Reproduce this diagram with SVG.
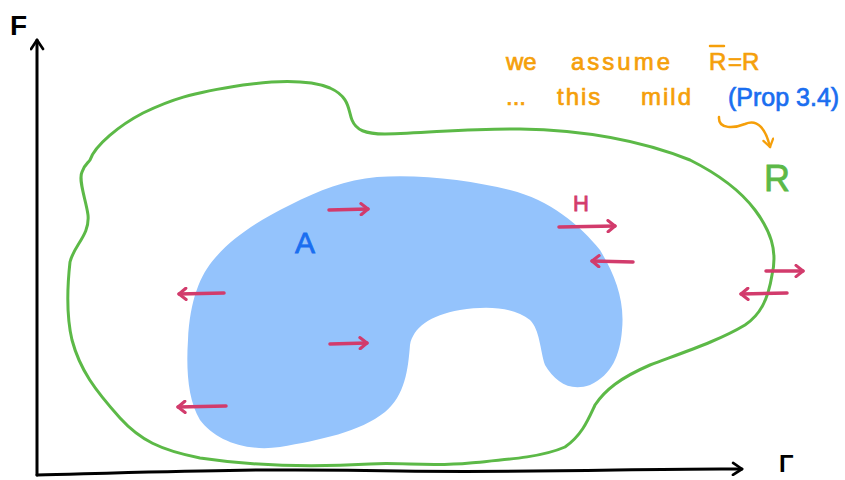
<svg xmlns="http://www.w3.org/2000/svg" width="845" height="480" viewBox="0 0 845 480">
<style>
.ax{fill:none;stroke:#000;stroke-width:3;stroke-linecap:round;stroke-linejoin:round}
.ar{fill:none;stroke:#d23b6c;stroke-width:3.5;stroke-linecap:round;marker-end:url(#ph)}
.or{font-family:"Liberation Sans",sans-serif;fill:#f59f0a;stroke:#f59f0a;stroke-width:0.7;font-size:24px}
.bl{font-family:"Liberation Sans",sans-serif;fill:#1a6ef0;stroke:#1a6ef0;stroke-width:0.7;font-size:25px}
</style>
<defs>
<marker id="ph" viewBox="0 0 10 10" refX="8" refY="5" markerWidth="4" markerHeight="4" orient="auto" markerUnits="strokeWidth">
<polyline points="3,1 8,5 3,9" fill="none" stroke="#d23b6c" stroke-width="2.2" stroke-linecap="round" stroke-linejoin="round"/>
</marker>
<marker id="kh" viewBox="0 0 10 10" refX="8" refY="5" markerWidth="5" markerHeight="5" orient="auto" markerUnits="strokeWidth">
<polyline points="2,1 8,5 2,9" fill="none" stroke="#000" stroke-width="1.8" stroke-linecap="round" stroke-linejoin="round"/>
</marker>
<marker id="oh" viewBox="0 0 10 10" refX="8" refY="5" markerWidth="5" markerHeight="5" orient="auto" markerUnits="strokeWidth">
<polyline points="2,1 8,5 2,9" fill="none" stroke="#f59f0a" stroke-width="1.8" stroke-linecap="round" stroke-linejoin="round"/>
</marker>
</defs>
<rect width="845" height="480" fill="#fff"/>
<g id="axes">
<path class="ax" d="M37,475 C36,350 38,200 37,40" marker-end="url(#kh)"/>
<path class="ax" d="M37,475 C150,472 250,468 400,471 C550,473 650,468 742,469" marker-end="url(#kh)"/>
<text x="10" y="35" font-family="Liberation Sans,sans-serif" font-size="28" font-weight="bold" fill="#000">F</text>
<text x="779" y="472" font-family="Liberation Sans,sans-serif" font-size="24" font-weight="bold" fill="#000">Γ</text>
</g>
<g id="R">
<path fill="none" stroke="#5cb947" stroke-width="3" stroke-linejoin="round" d="M90,160 C95,145 120,125 143,113 C170,100 190,93 243,85 C280,80 310,80 330,88 C350,97 348,110 352,120 C356,130 365,134 385,134 C430,133 470,128 520,129 C580,130 640,140 690,160 C720,175 740,190 755,210 C770,230 778,250 772,275 C768,300 760,315 745,325 C720,340 690,350 650,365 C620,378 605,390 595,405 C588,420 582,435 565,447 C540,458 500,460 470,463 C430,467 400,462 370,464 C320,467 260,467 200,458 C160,450 140,440 120,418 C95,390 80,370 72,340 C65,310 68,280 70,262 C74,245 90,235 88,215 C86,200 78,180 82,172 C84,165 88,163 90,160 Z"/>
<text x="764" y="191" font-family="Liberation Sans,sans-serif" font-size="36" fill="#5cb947" stroke="#5cb947" stroke-width="0.8">R</text>
</g>
<g id="A">
<path fill="#94c3fc" d="M377,177 C420,174 470,180 510,190 C550,200 580,225 600,250 C615,275 625,300 622,330 C620,355 612,375 590,385 C570,392 555,382 545,365 C540,350 540,330 530,320 C515,308 490,305 460,310 C430,315 413,328 410,345 C408,370 405,395 385,412 C360,432 320,440 280,447 C245,452 215,440 200,420 C188,400 186,370 188,340 C190,300 200,275 215,258 C235,235 260,220 290,205 C320,190 345,180 377,177 Z"/>
<text x="295" y="253" font-family="Liberation Sans,sans-serif" font-size="30" fill="#1a6ef0" stroke="#1a6ef0" stroke-width="0.8">A</text>
</g>
<g id="H">
<text x="573" y="211" font-family="Liberation Sans,sans-serif" font-size="22" fill="#d23b6c" stroke="#d23b6c" stroke-width="0.8">H</text>
</g>
<g id="connectors">
<path class="ar" d="M329,210 L368,209"/>
<path class="ar" d="M559,227 L615,226"/>
<path class="ar" d="M633,262 L592,261"/>
<path class="ar" d="M224,293 L179,294"/>
<path class="ar" d="M330,344 L367,343"/>
<path class="ar" d="M226,406 L178,407"/>
<path class="ar" d="M766,271 L803,271"/>
<path class="ar" d="M787,293 L741,294"/>
<path fill="none" stroke="#f59f0a" stroke-width="2.5" stroke-linecap="round" d="M719,117 C718,130 735,128 745,124 C758,118 766,130 770,147" marker-end="url(#oh)"/>
</g>
<g id="note">
<text class="or" x="506" y="70">we</text>
<text class="or" x="571" y="70" letter-spacing="3">assume</text>
<text class="or" x="709" y="70">R</text>
<line x1="710" y1="46" x2="724" y2="46" stroke="#f59f0a" stroke-width="2.5" stroke-linecap="round"/>
<text class="or" x="728" y="70">=</text>
<text class="or" x="742" y="70">R</text>
<text class="or" x="506" y="105">...</text>
<text class="or" x="557" y="105" letter-spacing="2">this</text>
<text class="or" x="641" y="105" letter-spacing="2">mild</text>
<text class="bl" x="728" y="106">(Prop 3.4)</text>
</g>
</svg>
